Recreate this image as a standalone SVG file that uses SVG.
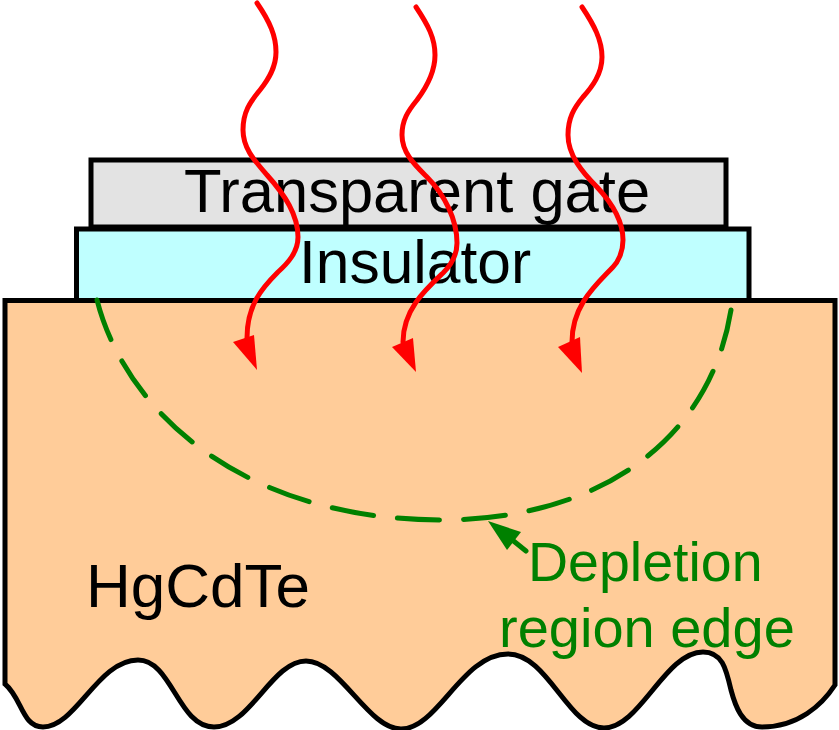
<svg xmlns="http://www.w3.org/2000/svg" width="839" height="730" viewBox="0 0 839 730">
<style>
.box{stroke:#000;stroke-width:5;stroke-linejoin:miter}
.t{font-family:"Liberation Sans",Arial,sans-serif;fill:#000}
.g{font-family:"Liberation Sans",Arial,sans-serif;fill:#008000}
.ray{fill:none;stroke:#f00;stroke-width:5;stroke-linecap:round}
.head{fill:#f00}
</style>
<rect width="839" height="730" fill="#fff"/>
<g id="substrate">
<path class="box" fill="#ffcc99" d="M5,300.500H835V685C822,705 798,727 762,727C742,727 735,705 731,690C726,668 722,652 703,652C665,652 640,728 604,728C568,728 548,654 508,654C462,654 438,729 401,729C368,729 340,661 306,661C272,661 250,727 214,727C178,727 172,660 138,660C98,660 76,727 43,727C22,727 22,698 5,684Z"/>
<text class="t" x="86" y="607" font-size="62">HgCdTe</text>
</g>
<g id="insulator">
<rect class="box" fill="#bfffff" x="76.500" y="229" width="672.500" height="71.500"/>
<text class="t" x="299" y="283" font-size="60.500">Insulator</text>
</g>
<g id="gate">
<rect class="box" fill="#e3e3e3" x="91" y="160" width="635" height="67"/>
<text class="t" x="184" y="212" font-size="61.500">Transparent gate</text>
</g>
<g id="label">
<text class="g" x="528" y="581" font-size="55.500">Depletion</text>
<text class="g" x="499" y="647" font-size="56">region edge</text>
</g>
<g id="connectors">
<path fill="none" stroke="#008000" stroke-width="5" stroke-dasharray="42 24" stroke-linecap="round" d="M97,300C125,410 240,519 440,520C600,520 710,440 731,310"/>
<path fill="none" stroke="#008000" stroke-width="5" stroke-linecap="round" d="M526,551L505,534"/>
<polygon fill="#008000" points="488,521 521,532 507,550"/>
<path class="ray" d="M257,3C270,22 276,36 276,52C276,68 268,80 260,90C250,102 243,112 243,130C243,148 254,160 267,175C285,195 298,215 298,237C298,252 288,263 278,272C262,288 247,305 247,338"/>
<polygon class="head" points="257,370 233,342 254,335"/>
<path class="ray" d="M416,7C428,25 435,38 435,55C435,72 426,88 417,100C408,111 402,120 402,135C402,153 415,165 427,177C445,195 457,220 457,243C457,256 450,266 443,273C425,290 403,310 403,342"/>
<polygon class="head" points="416,372 392,347 413,338"/>
<path class="ray" d="M582,7C594,25 602,40 602,57C602,74 592,87 583,97C574,108 568,118 568,135C568,155 582,172 597,187C612,203 623,220 623,240C623,252 618,262 613,267C596,285 572,305 572,342"/>
<polygon class="head" points="582,373 558,347 580,337"/>
</g>
</svg>
